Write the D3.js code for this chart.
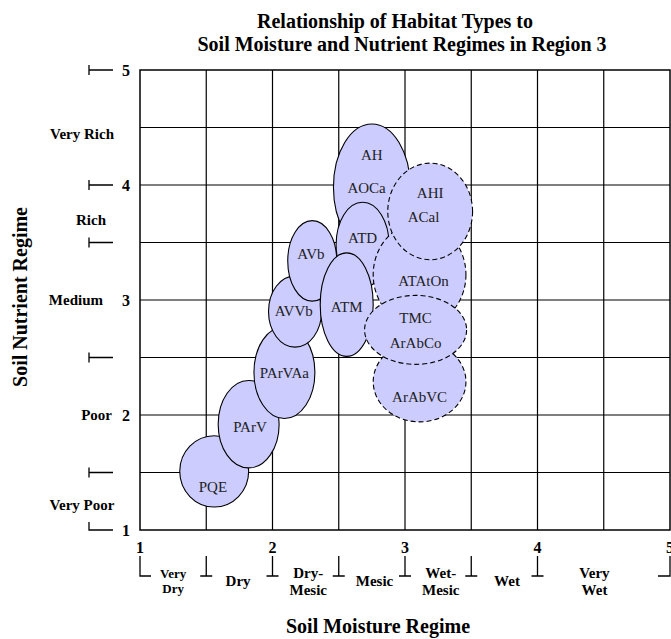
<!DOCTYPE html>
<html>
<head>
<meta charset="utf-8">
<script src="https://cdn.jsdelivr.net/npm/d3@7"></script>
<style>
  body { margin: 0; background: #fff; }
  svg { display: block; font-family: "Liberation Serif", "Times New Roman", serif; }
</style>
</head>
<body>
<div id="chart"></div>
<script>
// habitat types: ellipse centre (moisture, nutrient) and half-widths in axis units
const habitats = ['PQE', 'PArV', 'PArVAa', 'AVVb', 'AVb', 'AH', 'ATD', 'ATM', 'ATAtOn', 'ArAbVC', 'TMC', 'AHI'];
const moisture = [1.56, 1.82, 2.09, 2.17, 2.30, 2.75, 2.68, 2.56, 3.11, 3.11, 3.08, 3.19];
const nutrient = [1.51, 1.92, 2.37, 2.90, 3.34, 3.98, 3.48, 2.96, 3.22, 2.29, 2.74, 3.77];
const moistureSpread = [0.26, 0.23, 0.23, 0.20, 0.185, 0.29, 0.20, 0.20, 0.35, 0.35, 0.385, 0.32];
const nutrientSpread = [0.31, 0.38, 0.40, 0.31, 0.35, 0.55, 0.37, 0.45, 0.45, 0.35, 0.30, 0.42];
const uncertain = [false, false, false, false, false, false, false, false, true, true, true, true];

// habitat codes written inside the ellipses (text, moisture, nutrient)
const codeLabels = [
  ['PQE', 1.55, 1.38], ['PArV', 1.83, 1.90], ['PArVAa', 2.09, 2.37],
  ['AVVb', 2.16, 2.91], ['AVb', 2.29, 3.40], ['AH', 2.75, 4.26],
  ['AOCa', 2.71, 3.98], ['ATD', 2.68, 3.54], ['ATM', 2.56, 2.94],
  ['ATAtOn', 3.14, 3.17], ['TMC', 3.08, 2.85], ['ArAbCo', 3.08, 2.63],
  ['ArAbVC', 3.11, 2.16], ['AHI', 3.19, 3.93], ['ACal', 3.14, 3.72]
];

// axis ticks and regime classes
const tickValues = [1, 2, 3, 4, 5];
const gridValues = [1.5, 2, 2.5, 3, 3.5, 4, 4.5];
const nutrientBounds = [1, 1.5, 2.5, 3.5, 4, 5];
const nutrientClasses = ['Very Rich', 'Rich', 'Medium', 'Poor', 'Very Poor'];
const nutrientClassAt = [4.45, 3.7, 3, 2, 1.22];
const moistureBounds = [1, 1.5, 2, 2.5, 3, 3.5, 4, 5];
const moistureClasses = [['Very', 'Dry'], ['Dry'], ['Dry-', 'Mesic'], ['Mesic'], ['Wet-', 'Mesic'], ['Wet'], ['Very', 'Wet']];
const moistureClassAt = [1.25, 1.74, 2.27, 2.77, 3.27, 3.77, 4.43];

const width = 671, height = 639;
const plot = { left: 140, right: 670, top: 70, bottom: 530 };

const svg = d3.select('#chart').append('svg')
  .attr('width', width)
  .attr('height', height);

const x = d3.scaleLinear().domain([1, 5]).range([plot.left, plot.right]);
const y = d3.scaleLinear().domain([1, 5]).range([plot.bottom, plot.top]);

// title
svg.append('text')
  .attr('x', 395).attr('y', 28)
  .attr('text-anchor', 'middle')
  .attr('font-size', 20).attr('font-weight', 'bold')
  .text('Relationship of Habitat Types to');
svg.append('text')
  .attr('x', 402).attr('y', 51)
  .attr('text-anchor', 'middle')
  .attr('font-size', 20).attr('font-weight', 'bold')
  .text('Soil Moisture and Nutrient Regimes in Region 3');

// grid lines every half unit
const g = svg.append('g');
g.selectAll('line.v')
  .data(gridValues)
  .enter().append('line')
  .attr('class', 'v')
  .attr('x1', d => x(d)).attr('x2', d => x(d))
  .attr('y1', plot.top).attr('y2', plot.bottom)
  .attr('stroke', '#000').attr('stroke-width', 1.2);
g.selectAll('line.h')
  .data(gridValues)
  .enter().append('line')
  .attr('class', 'h')
  .attr('y1', d => y(d)).attr('y2', d => y(d))
  .attr('x1', plot.left).attr('x2', plot.right)
  .attr('stroke', '#000').attr('stroke-width', 1.2);
g.append('rect')
  .attr('x', plot.left).attr('y', plot.top)
  .attr('width', plot.right - plot.left)
  .attr('height', plot.bottom - plot.top)
  .attr('fill', 'none').attr('stroke', '#000').attr('stroke-width', 1.5);

// habitat ellipses
const ellipses = svg.append('g');
ellipses.selectAll('ellipse')
  .data(habitats.map((h, i) => i))
  .enter().append('ellipse')
  .attr('cx', i => x(moisture[i]))
  .attr('cy', i => y(nutrient[i]))
  .attr('rx', i => x(1 + moistureSpread[i]) - x(1))
  .attr('ry', i => y(1) - y(1 + nutrientSpread[i]))
  .attr('fill', '#ccccff')
  .attr('stroke', '#000')
  .attr('stroke-width', 1.1)
  .attr('stroke-dasharray', i => uncertain[i] ? '5,3' : null);

ellipses.selectAll('text')
  .data(codeLabels)
  .enter().append('text')
  .attr('x', d => x(d[1]))
  .attr('y', d => y(d[2]))
  .attr('dy', '0.35em')
  .attr('text-anchor', 'middle')
  .attr('font-size', 15)
  .attr('fill', '#222')
  .text(d => d[0]);

// left axis: numbers, class boundaries and class names
const left = svg.append('g');
left.selectAll('text.num')
  .data(tickValues)
  .enter().append('text')
  .attr('class', 'num')
  .attr('x', 126).attr('y', d => y(d))
  .attr('dy', '0.35em')
  .attr('text-anchor', 'middle')
  .attr('font-size', 16).attr('font-weight', 'bold')
  .text(d => d);

left.selectAll('path')
  .data(nutrientBounds)
  .enter().append('path')
  .attr('d', (d, i) => {
    const yy = y(d);
    if (i === 0) return `M89,${yy - 8}V${yy}H113`;
    return `M89,${yy - 5}V${yy + 5}M89,${yy}H113`;
  })
  .attr('fill', 'none').attr('stroke', '#000').attr('stroke-width', 1.3);

left.selectAll('text.cls')
  .data(nutrientClasses)
  .enter().append('text')
  .attr('class', 'cls')
  .attr('x', (d, i) => i === 2 ? 103 : i === 3 ? 112 : i === 1 ? 91 : 82)
  .attr('y', (d, i) => y(nutrientClassAt[i]))
  .attr('dy', '0.35em')
  .attr('text-anchor', (d, i) => i === 2 || i === 3 ? 'end' : 'middle')
  .attr('font-size', 15).attr('font-weight', 'bold')
  .text(d => d);

svg.append('text')
  .attr('transform', 'translate(27,297) rotate(-90)')
  .attr('text-anchor', 'middle')
  .attr('font-size', 20).attr('font-weight', 'bold')
  .text('Soil Nutrient Regime');

// bottom axis
const bottom = svg.append('g');
bottom.selectAll('text.num')
  .data(tickValues)
  .enter().append('text')
  .attr('class', 'num')
  .attr('x', d => x(d)).attr('y', 553)
  .attr('text-anchor', 'middle')
  .attr('font-size', 16).attr('font-weight', 'bold')
  .text(d => d);

bottom.selectAll('path')
  .data(moistureBounds)
  .enter().append('path')
  .attr('d', (d, i) => {
    const xx = x(d);
    if (i === 0) return `M${xx},556V576H${xx + 11}`;
    if (i === moistureBounds.length - 1) return `M${xx},556V576H${xx - 12}`;
    return `M${xx},556V576M${xx - 6},576H${xx + 6}`;
  })
  .attr('fill', 'none').attr('stroke', '#000').attr('stroke-width', 1.3);

const cls = bottom.selectAll('text.cls')
  .data(moistureClasses)
  .enter().append('text')
  .attr('class', 'cls')
  .attr('x', (d, i) => x(moistureClassAt[i]))
  .attr('y', d => d.length === 1 ? 586 : 578)
  .attr('text-anchor', 'middle')
  .attr('font-size', (d, i) => i === 0 ? 13 : 15)
  .attr('font-weight', 'bold');
cls.selectAll('tspan')
  .data((d, i) => d.map(t => ({ t, i })))
  .enter().append('tspan')
  .attr('x', function() { return this.parentNode.getAttribute('x'); })
  .attr('dy', (d, j) => j === 0 ? 0 : (d.i === 0 ? 15 : 17))
  .text(d => d.t);

svg.append('text')
  .attr('x', 378).attr('y', 633)
  .attr('text-anchor', 'middle')
  .attr('font-size', 20).attr('font-weight', 'bold')
  .text('Soil Moisture Regime');
</script>
</body>
</html>
